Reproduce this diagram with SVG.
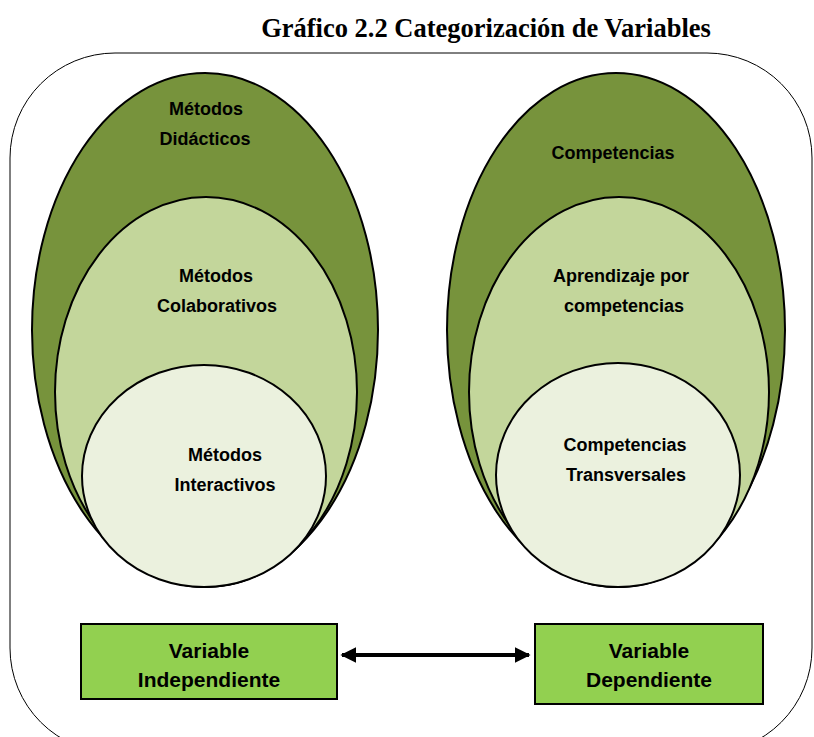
<svg xmlns="http://www.w3.org/2000/svg" width="814" height="737" viewBox="0 0 814 737">
<defs>
<style>
.t{font-family:"Liberation Sans",Arial,sans-serif;font-weight:bold;font-size:18px;fill:#000;text-anchor:middle}
.b{font-size:21px}
.e{stroke:#000;stroke-width:2}
.d{fill:#77933C}.m{fill:#C3D69B}.l{fill:#EBF1DE}
.box{fill:#92D050;stroke:#000;stroke-width:2}
</style>
<marker id="ah" viewBox="0 0 10 10" refX="9" refY="5" markerWidth="4" markerHeight="4.2" orient="auto-start-reverse" markerUnits="strokeWidth">
<path d="M0,0 L10,5 L0,10 Z" fill="#000"/>
</marker>
</defs>
<rect width="814" height="737" fill="#fff"/>
<text x="486" y="37" font-family="Liberation Serif,Times New Roman,serif" font-weight="bold" font-size="26.5" text-anchor="middle">Gráfico 2.2 Categorización de Variables</text>
<rect id="frame" x="10" y="53" width="802" height="700" rx="105" ry="105" fill="none" stroke="#000" stroke-width="1"/>
<g id="left-outer"><ellipse class="e d" cx="205" cy="330" rx="173" ry="257"/><text class="t" x="206" y="115">Métodos</text><text class="t" x="205" y="145">Didácticos</text></g>
<g id="left-middle"><ellipse class="e m" cx="206" cy="392" rx="151" ry="195"/><text class="t" x="216" y="282">Métodos</text><text class="t" x="217" y="312">Colaborativos</text></g>
<g id="left-inner"><ellipse class="e l" cx="204" cy="476" rx="122" ry="111"/><text class="t" x="225" y="461">Métodos</text><text class="t" x="225" y="491">Interactivos</text></g>
<g id="right-outer"><ellipse class="e d" cx="616" cy="330" rx="169" ry="257"/><text class="t" x="613" y="159">Competencias</text></g>
<g id="right-middle"><ellipse class="e m" cx="619" cy="392" rx="150" ry="195"/><text class="t" x="621" y="282">Aprendizaje por</text><text class="t" x="624" y="312">competencias</text></g>
<g id="right-inner"><ellipse class="e l" cx="618" cy="475" rx="122" ry="112"/><text class="t" x="625" y="451">Competencias</text><text class="t" x="626" y="481">Transversales</text></g>
<g id="var-indep"><rect class="box" x="81" y="624" width="256" height="75"/><text class="t b" x="209" y="658">Variable</text><text class="t b" x="209" y="687">Independiente</text></g>
<g id="var-dep"><rect class="box" x="535" y="624" width="228" height="80"/><text class="t b" x="649" y="658">Variable</text><text class="t b" x="649" y="687">Dependiente</text></g>
<g id="connectors"><line x1="342" y1="655" x2="529" y2="655" stroke="#000" stroke-width="4" marker-start="url(#ah)" marker-end="url(#ah)"/></g>
</svg>
